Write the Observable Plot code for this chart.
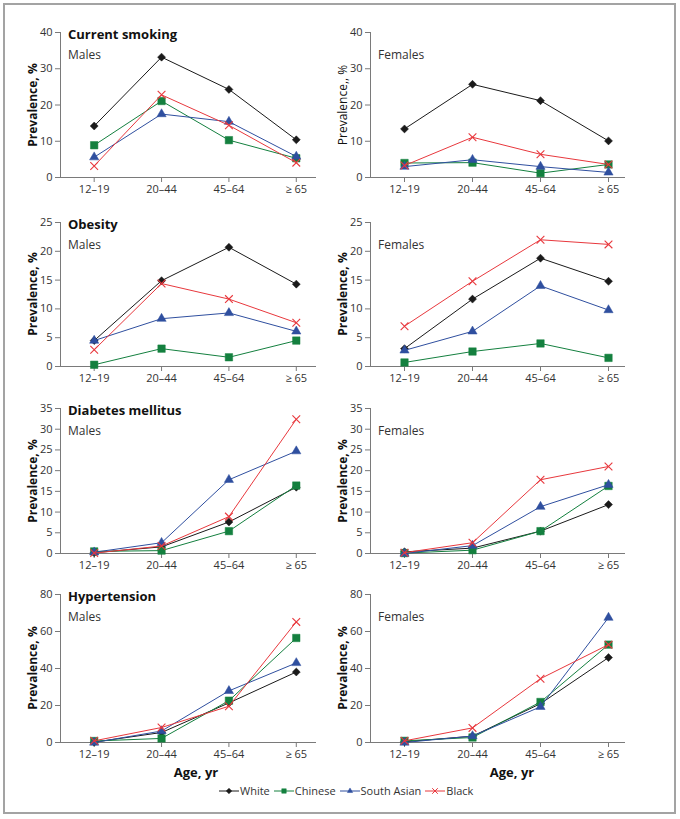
<!DOCTYPE html>
<html>
<head>
<meta charset="utf-8">
<script src="https://cdn.jsdelivr.net/npm/d3@7"></script>
<script src="https://cdn.jsdelivr.net/npm/@observablehq/plot@0.6"></script>
<style>
  html, body { margin: 0; padding: 0; background: #fff; }
  body { font-family: "Open Sans", "DejaVu Sans", sans-serif; color: #333; }
  #fig { position: relative; width: 680px; height: 819px; overflow: hidden; }
  #border { position: absolute; left: 3px; top: 3px; width: 673px; height: 811px; box-sizing: border-box; border: 2px solid #a3a3a3; }
  .abs { position: absolute; white-space: nowrap; }
  .title { font-weight: 700; font-size: 13px; color: #111; transform: translateY(-50%); }
  .sex { font-size: 12px; color: #333; transform: translateY(-50%); }
  .ylab { font-size: 12px; color: #111; transform: translate(-50%, -50%) rotate(-90deg); }
  .xlab { font-size: 13px; font-weight: 700; color: #111; transform: translate(-50%, -50%); }
  #legend { position: absolute; left: 219px; top: 783px; display: flex; align-items: center; gap: 4px; font-size: 11px; color: #333; }
  #legend .item { display: flex; align-items: center; gap: 1px; }
  svg.plot { position: absolute; }
</style>
</head>
<body>
<div id="fig"><div id="border"></div></div>
<script>
// ---- Data ----
const ageGroups = ["12–19", "20–44", "45–64", "≥ 65"];
const groups = ["White", "Chinese", "South Asian", "Black"];
const groupColors = ["#1a1a1a", "#14803f", "#2f4f9f", "#e8383d"];
const groupSymbols = ["diamond2", "square", "triangle2", "times"];

// each panel: rows in order White, Chinese, South Asian, Black
const smokingMales   = [[14.2, 33.2, 24.3, 10.4], [8.9, 21.1, 10.3, 5.3], [5.6, 17.5, 15.4, 5.8], [3.2, 22.8, 14.4, 4.1]];
const smokingFemales = [[13.4, 25.7, 21.2, 10.1], [4.0, 4.1, 1.2, 3.6], [3.0, 4.9, 3.0, 1.4], [3.3, 11.1, 6.4, 3.6]];
const obesityMales   = [[4.5, 14.9, 20.7, 14.3], [0.3, 3.1, 1.6, 4.5], [4.5, 8.3, 9.3, 6.1], [2.9, 14.4, 11.7, 7.6]];
const obesityFemales = [[3.1, 11.7, 18.8, 14.8], [0.7, 2.6, 4.0, 1.5], [2.8, 6.1, 14.0, 9.8], [7.0, 14.8, 22.0, 21.2]];
const diabetesMales  = [[0.2, 1.6, 7.6, 16.0], [0.5, 0.7, 5.4, 16.4], [0.3, 2.6, 17.8, 24.7], [0.1, 1.8, 8.9, 32.4]];
const diabetesFemales= [[0.4, 1.3, 5.4, 11.8], [0.1, 0.8, 5.4, 16.3], [0.0, 1.9, 11.3, 16.6], [0.2, 2.6, 17.8, 21.0]];
const hypertensionMales   = [[0.2, 5.4, 21.4, 38.1], [0.8, 2.2, 22.6, 56.5], [0.0, 6.2, 27.9, 43.0], [0.9, 8.1, 19.6, 65.2]];
const hypertensionFemales = [[0.4, 3.4, 21.0, 45.9], [0.9, 2.7, 21.9, 52.9], [0.0, 3.5, 19.3, 67.5], [0.9, 7.9, 34.5, 52.9]];

const panels = [
  {title: "Current smoking", sex: "Males", values: smokingMales, yMax: 40, step: 10, row: 0, col: 0, ylabel: "Prevalence, %", bold: true},
  {title: "", sex: "Females", values: smokingFemales, yMax: 40, step: 10, row: 0, col: 1, ylabel: "Prevalence,, %", bold: false},
  {title: "Obesity", sex: "Males", values: obesityMales, yMax: 25, step: 5, row: 1, col: 0, ylabel: "Prevalence, %", bold: true},
  {title: "", sex: "Females", values: obesityFemales, yMax: 25, step: 5, row: 1, col: 1, ylabel: "Prevalence, %", bold: true},
  {title: "Diabetes mellitus", sex: "Males", values: diabetesMales, yMax: 35, step: 5, row: 2, col: 0, ylabel: "Prevalence, %", bold: true},
  {title: "", sex: "Females", values: diabetesFemales, yMax: 35, step: 5, row: 2, col: 1, ylabel: "Prevalence, %", bold: true},
  {title: "Hypertension", sex: "Males", values: hypertensionMales, yMax: 80, step: 20, row: 3, col: 0, ylabel: "Prevalence, %", bold: true},
  {title: "", sex: "Females", values: hypertensionFemales, yMax: 80, step: 20, row: 3, col: 1, ylabel: "Prevalence, %", bold: true}
];

// ---- Layout ----
const rowTop  = [32, 222, 408, 594];   // pixel y of the axis maximum
const rowZero = [177, 366, 553, 742];  // pixel y of zero
const colGeom = [
  {left: 0,   width: 340, marginLeft: 60, marginRight: 24, xMax: 3.3,  ylabX: 32,  textX: 68},
  {left: 340, width: 340, marginLeft: 30, marginRight: 55, xMax: 3.25, ylabX: 342, textX: 378}
];
const axisGray = "#7a7a7a";
const fig = document.getElementById("fig");

function addDiv(cls, text, left, top) {
  const d = document.createElement("div");
  d.className = "abs " + cls;
  d.textContent = text;
  d.style.left = left + "px";
  d.style.top = top + "px";
  fig.appendChild(d);
  return d;
}

for (const p of panels) {
  const g = colGeom[p.col];
  const top = rowTop[p.row], zero = rowZero[p.row];
  const mTop = 10, mBottom = 32;
  const height = (zero - top) + mTop + mBottom;
  const rows = [];
  p.values.forEach((vals, gi) => vals.forEach((v, i) => rows.push({g: groups[gi], gi, i, v})));

  const seriesMarks = groups.flatMap((name, gi) => {
    const data = rows.filter(d => d.gi === gi);
    const isX = groupSymbols[gi] === "times";
    const r = [3.6, 4.2, 4.4, 3.6][gi];
    return [
      Plot.line(data, {x: "i", y: "v", stroke: groupColors[gi], strokeWidth: 1}),
      Plot.dot(data, {
        x: "i", y: "v", symbol: groupSymbols[gi], r,
        fill: isX ? "none" : groupColors[gi],
        stroke: groupColors[gi],
        strokeWidth: isX ? 1.1 : 0.5
      })
    ];
  });

  const chart = Plot.plot({
    width: g.width,
    height,
    marginTop: mTop,
    marginBottom: mBottom,
    marginLeft: g.marginLeft,
    marginRight: g.marginRight,
    style: {fontFamily: "'Open Sans', sans-serif", fontSize: "11px", color: "#333", background: "transparent", overflow: "visible"},
    x: {domain: [-0.5, g.xMax], axis: null},
    y: {domain: [0, p.yMax], axis: null},
    marks: [
      Plot.ruleX([-0.5], {stroke: axisGray}),
      Plot.ruleY([0], {stroke: axisGray}),
      Plot.axisX({ticks: d3.range(ageGroups.length), tickFormat: i => ageGroups[i], tickSize: 5, tickPadding: 3, stroke: axisGray, fill: "#333", label: null}),
      Plot.axisY({ticks: d3.range(0, p.yMax + 0.001, p.step), tickSize: 5, tickPadding: 3, stroke: axisGray, fill: "#333", label: null}),
      ...seriesMarks
    ]
  });
  chart.classList.add("plot");
  chart.style.left = g.left + "px";
  chart.style.top = (top - mTop) + "px";
  fig.appendChild(chart);

  if (p.title) addDiv("title", p.title, g.textX, top + 2);
  addDiv("sex", p.sex, g.textX, top + 22);
  const yl = addDiv("ylab", p.ylabel, g.ylabX, (top + zero) / 2);
  yl.style.fontWeight = p.bold ? "700" : "400";
}

// x-axis titles
addDiv("xlab", "Age, yr", 196, 772);
addDiv("xlab", "Age, yr", 512, 772);

// legend
const legend = document.createElement("div");
legend.id = "legend";
groups.forEach((name, gi) => {
  const item = document.createElement("div");
  item.className = "item";
  const svg = d3.create("svg").attr("width", 20).attr("height", 12);
  svg.append("line").attr("x1", 0).attr("x2", 20).attr("y1", 6).attr("y2", 6).attr("stroke", groupColors[gi]).attr("stroke-width", 1);
  const symMap = {diamond2: d3.symbolDiamond2, square: d3.symbolSquare, triangle2: d3.symbolTriangle2, times: d3.symbolTimes};
  const isX = groupSymbols[gi] === "times";
  svg.append("path")
    .attr("transform", "translate(10,6)")
    .attr("d", d3.symbol(symMap[groupSymbols[gi]], isX ? 22 : 20)())
    .attr("fill", isX ? "none" : groupColors[gi])
    .attr("stroke", groupColors[gi])
    .attr("stroke-width", isX ? 1 : 0.5);
  item.appendChild(svg.node());
  const t = document.createElement("span");
  t.textContent = name;
  item.appendChild(t);
  legend.appendChild(item);
});
fig.appendChild(legend);
</script>
</body>
</html>
